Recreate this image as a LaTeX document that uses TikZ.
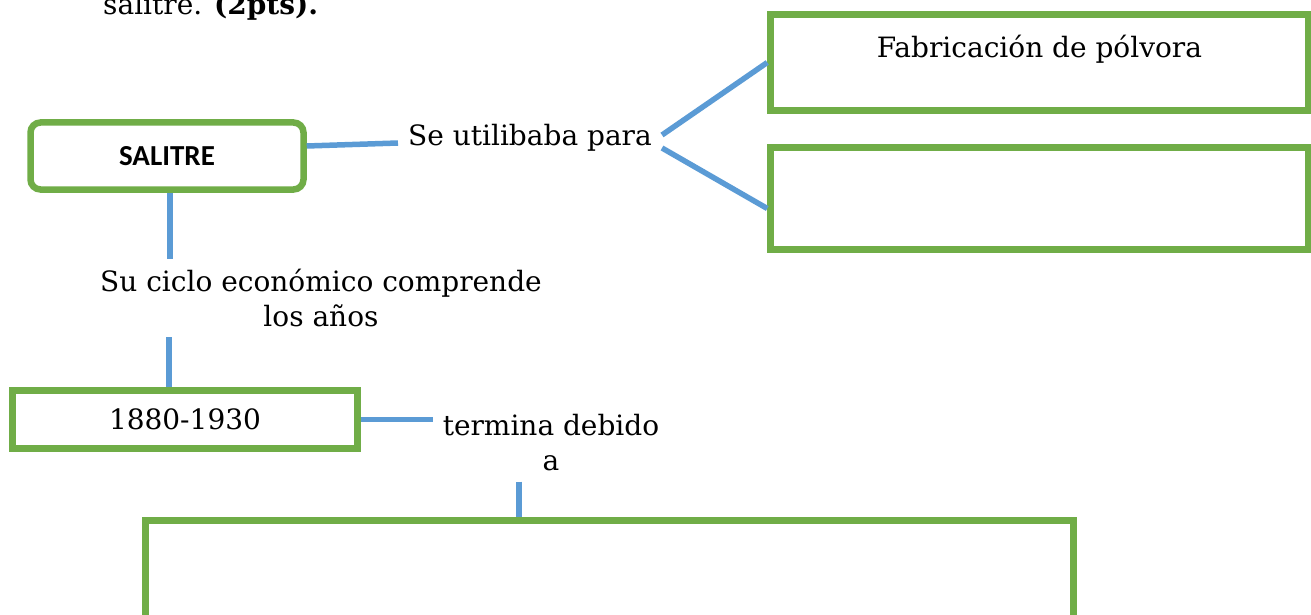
\documentclass[tikz,border=0pt]{standalone}
\usepackage{fontspec}
\setmainfont{DejaVu Serif}
\newfontfamily\calibri{Carlito}
\usetikzlibrary{positioning}
\definecolor{boxgreen}{RGB}{112,173,71}
\definecolor{linkblue}{RGB}{91,155,213}
\tikzset{%
	box/.style      = {draw=boxgreen, line width=6.5pt, rectangle, inner sep=0pt, fill=white},
	roundbox/.style = {box, rounded corners=10pt}, % Main concept
	txt/.style      = {inner sep=10pt, align=center}, % Linking words
	link/.style     = {draw=linkblue, line width=5.5pt},
}
\begin{document}
\begin{tikzpicture}[x=1pt, y=-1pt, font=\fontsize{28}{35}\selectfont]
	\useasboundingbox (0,0) rectangle (1311,615);
	\node[txt, anchor=base west, inner sep=0pt] (task) at (103,15) {salitre. \textbf{(2pts).}};
	\node[roundbox, minimum width=273pt, minimum height=67pt, font=\calibri\bfseries\fontsize{29}{32}\selectfont] (salitre) at (167,156) {SALITRE};
	\node[txt] (usedfor) at (530,138) {Se utilibaba para};
	\node[box, minimum width=538pt, text height=43.5pt, text depth=52.5pt] (gunpowder) at (1039.5,62.5) {Fabricación de pólvora};
	\node[box, minimum width=538pt, minimum height=102pt] (other) at (1039.5,198.5) {};
	\node[txt] (cycle) at (321,298) {Su ciclo económico comprende\\los años};
	\node[box, minimum width=345pt, minimum height=58pt] (years) at (185,419.5) {1880-1930};
	\node[txt] (ends) at (551,443) {termina debido\\a};
	\node[box, minimum width=928pt, minimum height=160pt] (reason) at (609.5,600.5) {};
	
	\draw[link] ([yshift=10pt]salitre.east) -- ([yshift=-5pt]usedfor.west);
	\draw[link] ([yshift=3pt]usedfor.east) -- (gunpowder.west);
	\draw[link] ([yshift=-10pt]usedfor.east) -- ([yshift=-10pt]other.west);
	\draw[link] ([xshift=3pt]salitre.south) -- ([xshift=3pt]salitre.south |- cycle.north);
	\draw[link] ([xshift=-16pt]years.north) -- ([xshift=-16pt]years.north |- cycle.south);
	\draw[link] (years.east) -- (years.east -| ends.west);
	\draw[link] ([xshift=-32pt]ends.south) -- ([xshift=-32pt]ends.south |- reason.north);
\end{tikzpicture}
\end{document}
